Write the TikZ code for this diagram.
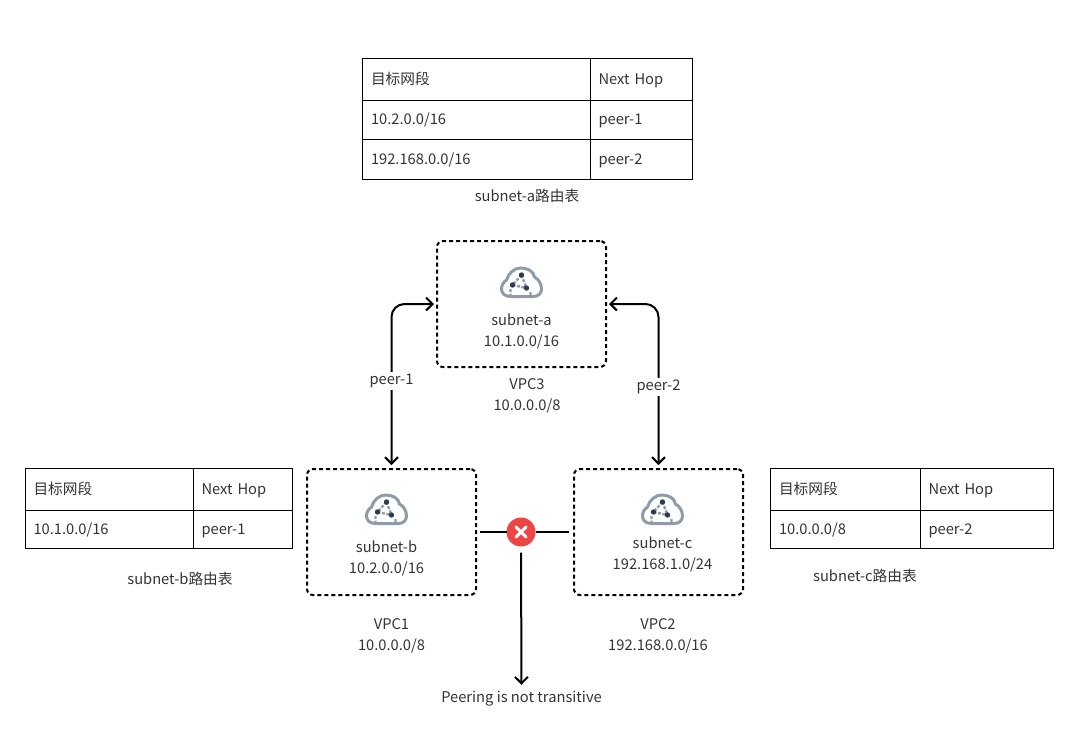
\documentclass[tikz,border=0pt]{standalone}
\usepackage{fontspec}
\setmainfont{Noto Sans CJK SC}
\usetikzlibrary{positioning,arrows.meta}
\definecolor{txtgray}{HTML}{333333}
\definecolor{cloudgray}{HTML}{8F9BA6}
\definecolor{dotnavy}{HTML}{2A3B52}
\definecolor{crossred}{HTML}{EE4444}
\tikzset{
    every node/.style={text=txtgray, font=\fontsize{14.7}{21}\selectfont},
    cell/.style={draw=black, rectangle, line width=1pt, inner xsep=8.5pt, inner ysep=0pt, outer sep=0pt, align=left, text height=14pt, text depth=3.5pt},
    subnetbox/.style={draw=black, rectangle, dash pattern=on 4pt off 3pt, line width=2pt, rounded corners=6pt, minimum width=169pt, minimum height=126pt, inner sep=0pt, outer sep=0pt},
    caption/.style={align=center, inner sep=0pt},
    link/.style={line width=2pt, black},
    barbtip/.tip={Straight Barb[length=6.5pt, width=13pt, line width=2pt]},
    cloudicon/.pic={
        \draw[cloudgray, line width=3pt, line join=round]
            (-11,13.5) .. controls (-17,13.5) and (-20,10) .. (-20,6)
            .. controls (-20,2) and (-18,-1) .. (-15,-3)
            .. controls (-13,-10) and (-7,-15) .. (-1,-15)
            .. controls (6,-15) and (12,-12) .. (13,-6)
            .. controls (17,-4) and (20,1) .. (20,6)
            .. controls (20,10) and (17,13.5) .. (12,13.5) -- cycle;
        \draw[cloudgray, line width=2.4pt, dash pattern=on 3pt off 1.5pt]
            (0,-8) -- (-9,2) (-9,2) -- (5,5) (0,-8) -- (5,5) (-11,6) -- (-11,14) (9,9) -- (9,14);
        \fill[dotnavy] (0,-8) circle (2.7) (-9,2) circle (2.7) (5,5) circle (2.7);
    },
}
\begin{document}
\begin{tikzpicture}[x=1pt, y=-1pt]
    \useasboundingbox (0,0) rectangle (1080,732);

    % table of subnet-a
    \node[cell, anchor=north west, text width=210.5pt, minimum height=41.5pt] (a11) at (362.5,58.5) {目标网段};
    \node[cell, right=0pt of a11, text width=85pt, minimum height=41.5pt] (a12) {Next Hop};
    \node[cell, below=0pt of a11, text width=210.5pt, minimum height=39pt] (a21) {10.2.0.0/16};
    \node[cell, right=0pt of a21, text width=85pt, minimum height=39pt] (a22) {peer-1};
    \node[cell, below=0pt of a21, text width=210.5pt, minimum height=40.5pt] (a31) {192.168.0.0/16};
    \node[cell, right=0pt of a31, text width=85pt, minimum height=40.5pt] (a32) {peer-2};
    \node[caption] (acap) at (527,196) {subnet-a路由表};

    % table of subnet-b
    \node[cell, anchor=north west, text width=151pt, minimum height=41.5pt] (b11) at (25,468.5) {目标网段};
    \node[cell, right=0pt of b11, text width=82.5pt, minimum height=41.5pt] (b12) {Next Hop};
    \node[cell, below=0pt of b11, text width=151pt, minimum height=38pt] (b21) {10.1.0.0/16};
    \node[cell, right=0pt of b21, text width=82.5pt, minimum height=38pt] (b22) {peer-1};
    \node[caption] (bcap) at (180,579) {subnet-b路由表};

    % table of subnet-c
    \node[cell, anchor=north west, text width=132.5pt, minimum height=41.5pt] (c11) at (770.5,468.5) {目标网段};
    \node[cell, right=0pt of c11, text width=116.5pt, minimum height=41.5pt] (c12) {Next Hop};
    \node[cell, below=0pt of c11, text width=132.5pt, minimum height=38pt] (c21) {10.0.0.0/8};
    \node[cell, right=0pt of c21, text width=116.5pt, minimum height=38pt] (c22) {peer-2};
    \node[caption] (ccap) at (865,576) {subnet-c路由表};

    % subnets
    \node[subnetbox] (boxa) at (521.5,304) {};
    \node[subnetbox] (boxb) at (391.5,532) {};
    \node[subnetbox] (boxc) at (658.5,532) {};

    \pic at (521.5,283) {cloudicon};
    \pic at (386.5,510) {cloudicon};
    \pic at (662.5,510) {cloudicon};

    \node[caption] (suba) at (521.5,331.5) {subnet-a\\10.1.0.0/16};
    \node[caption] (subb) at (386.5,558.5) {subnet-b\\10.2.0.0/16};
    \node[caption] (subc) at (662.5,554.5) {subnet-c\\192.168.1.0/24};

    \node[caption] (vpca) at (527,396) {VPC3\\10.0.0.0/8};
    \node[caption] (vpcb) at (391.5,635.5) {VPC1\\10.0.0.0/8};
    \node[caption] (vpcc) at (658,635.5) {VPC2\\192.168.0.0/16};

    % peerings
    \draw[link, barbtip-barbtip, shorten <=3pt, shorten >=4pt, rounded corners=13pt] (boxa.west) -| (boxb.north);
    \draw[link, barbtip-barbtip, shorten <=3pt, shorten >=4pt, rounded corners=13pt] (boxa.east) -| (boxc.north);
    \node[fill=white, inner sep=2pt] (peer1) at (391.5,381) {peer-1};
    \node[fill=white, inner sep=2pt] (peer2) at (658.5,387) {peer-2};

    % not transitive
    \node[circle, fill=crossred, minimum size=29pt, inner sep=0pt, outer sep=0pt] (cross) at (521,532) {};
    \draw[white, line width=3pt, line cap=round] (cross.center) +(-5,-5) -- +(5,5) (cross.center) +(-5,5) -- +(5,-5);
    \draw[link, shorten <=4pt] (boxb.east) -- (cross.west);
    \draw[link, shorten >=5pt] (cross.east) -- (boxc.west);
    \node[caption] (peering) at (521.5,698.5) {Peering is not transitive};
    \draw[link, -barbtip, shorten <=6pt, shorten >=6pt] (cross.south) -- (peering.north);
\end{tikzpicture}
\end{document}
